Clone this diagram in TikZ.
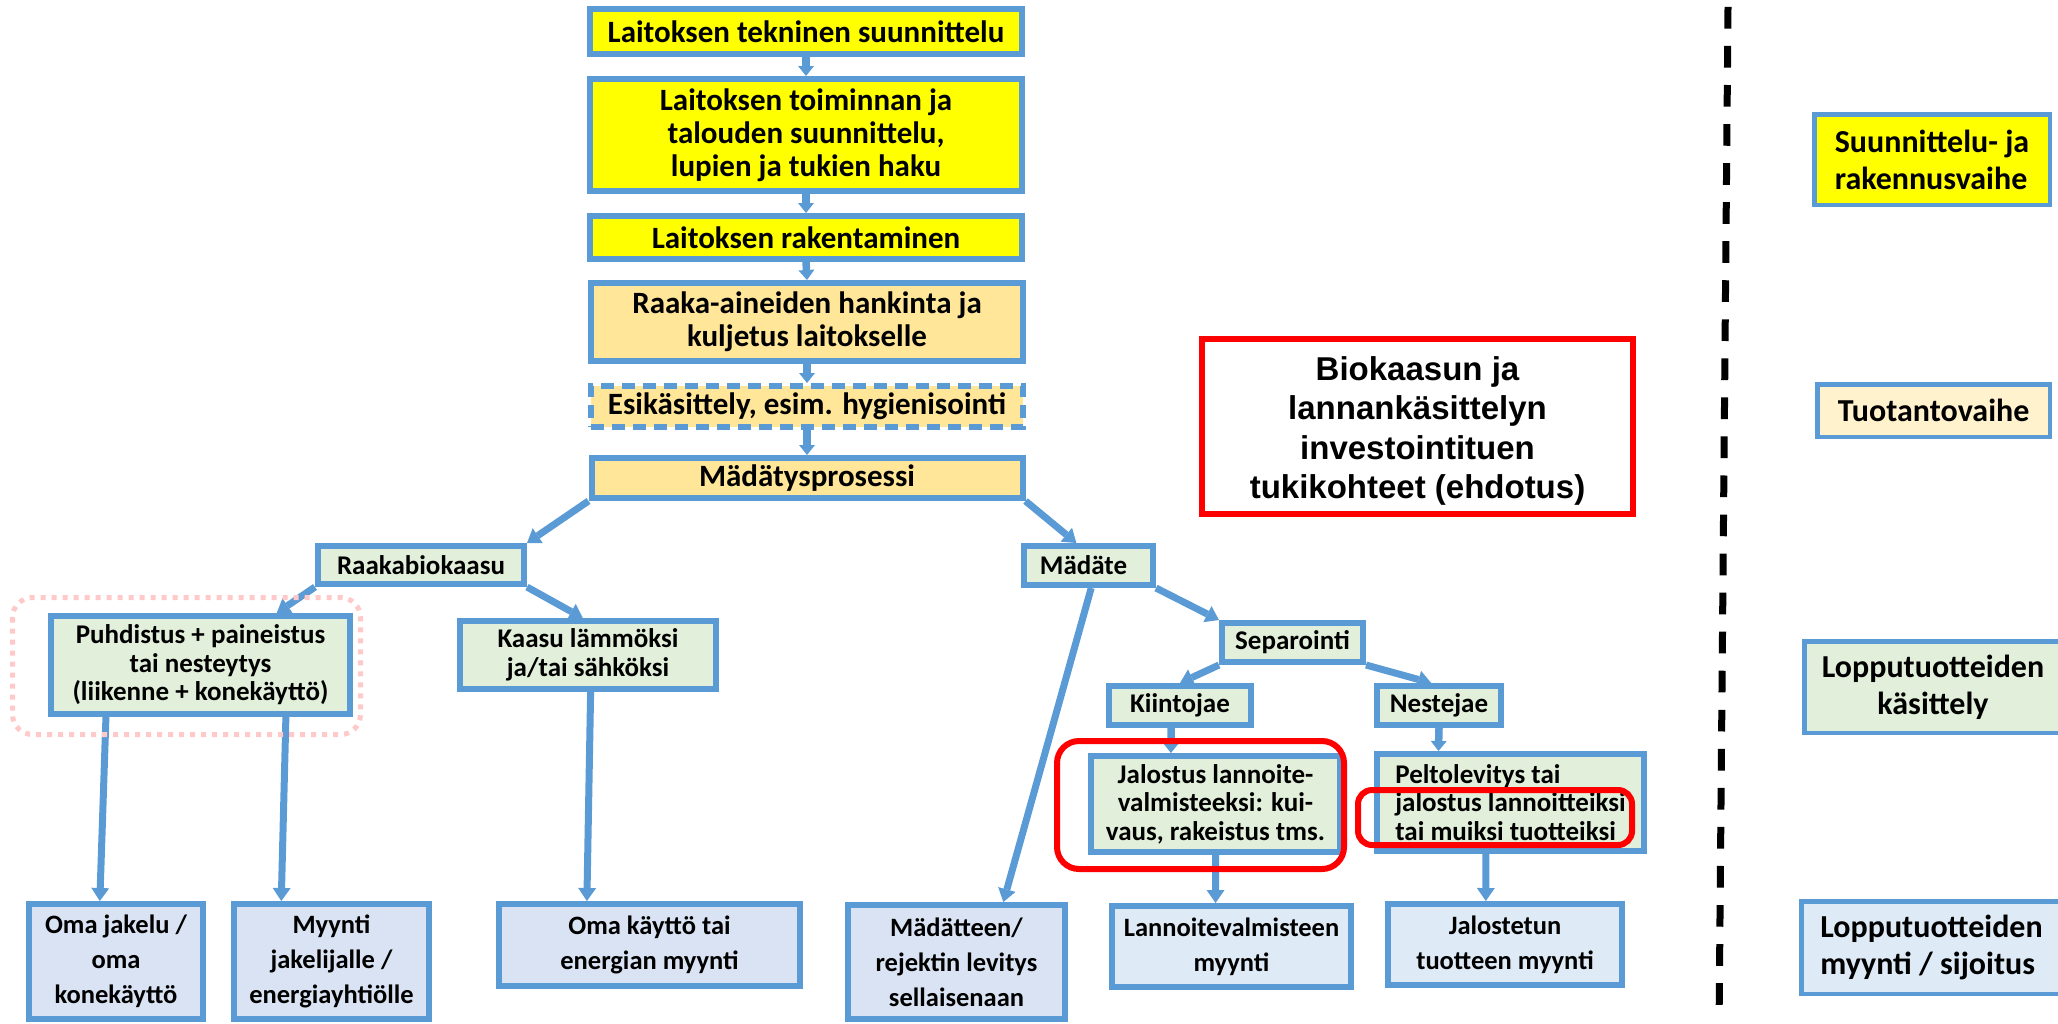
\documentclass[tikz,border=0pt]{standalone}
\usepackage{fontspec}
\setmainfont{Carlito}
\newfontfamily\arialfont{Liberation Sans}
\usetikzlibrary{arrows.meta,calc}
\definecolor{boxblue}{HTML}{5B9BD5}
\definecolor{byellow}{HTML}{FFFF00}
\definecolor{bpeach}{HTML}{FFE699}
\definecolor{bcream}{HTML}{FFF2CC}
\definecolor{bgreen}{HTML}{E2EFDA}
\definecolor{blav}{HTML}{DAE3F3}
\definecolor{blblue}{HTML}{DEEBF7}
\definecolor{hlred}{HTML}{FF0000}
\definecolor{hlpink}{HTML}{FFC9C9}
\newcommand\fTop{\fontsize{31}{33}\selectfont\bfseries}
\newcommand\fMid{\fontsize{27}{28.5}\selectfont\bfseries}
\newcommand\fBot{\fontsize{26.5}{35}\selectfont\bfseries}
\newcommand\fLeg{\fontsize{32}{37}\selectfont\bfseries}
\newcommand\fTitle{\arialfont\fontsize{33}{39.5}\selectfont\bfseries}
\begin{document}
\begin{tikzpicture}[x=1pt,y=-1pt,
  box/.style={draw=boxblue, line width=6pt, inner sep=0pt, align=center, text=black},
  legbox/.style={draw=boxblue, line width=4.5pt, inner sep=0pt, text=black, font=\fLeg},
  topbox/.style={box, font=\fTop},
  midbox/.style={box, font=\fMid, fill=bgreen},
  botbox/.style={box, font=\fBot},
  arr/.style={draw=boxblue, line width=7pt, -{Triangle[width=18pt,length=13pt,line width=0pt]}},
  sarr/.style={draw=boxblue, line width=7.5pt, -{Triangle[width=16pt,length=10pt,line width=0pt]}},
  redhl/.style={draw=hlred, line width=6pt},
  pinkhl/.style={draw=hlpink, line width=5pt, dash pattern=on 5pt off 6pt, rounded corners=20pt},
  phaseline/.style={draw=black, line width=7pt, dash pattern=on 21.7pt off 17.35pt}
]
\useasboundingbox (0,0) rectangle (2058,1023);

% top chain
\node[topbox, fill=byellow, minimum width=432, minimum height=45] (t1) at (806,31.5) {Laitoksen tekninen suunnittelu};
\node[topbox, fill=byellow, minimum width=432, minimum height=112] (t2) at (806,135) {Laitoksen toiminnan ja\\talouden suunnittelu,\\lupien ja tukien haku};
\node[topbox, fill=byellow, minimum width=432, minimum height=43] (t3) at (806,237.5) {Laitoksen rakentaminen};
\node[topbox, fill=bpeach, minimum width=432, minimum height=78] (t4) at (807,322) {Raaka-aineiden hankinta ja\\kuljetus laitokselle};
\node[topbox, fill=bpeach, minimum width=432, minimum height=41, dash pattern=on 13pt off 8pt] (t5) at (807,406.5) {Esikäsittely, esim. hygienisointi};
\node[topbox, fill=bpeach, minimum width=431, minimum height=40] (t6) at (807,478) {Mädätysprosessi};

% second level
\node[midbox, minimum width=206, minimum height=38] (raw) at (421,565) {Raakabiokaasu};
\node[midbox, minimum width=129, minimum height=39] (mad) at (1088.5,565.5) {Mädäte\hspace{10pt}};
\node[midbox, minimum width=299, minimum height=98] (puh) at (200.5,665) {Puhdistus + paineistus\\tai nesteytys\\(liikenne + konekäyttö)};
\node[midbox, minimum width=256, minimum height=68] (kaa) at (588,655) {Kaasu lämmöksi\\ja/tai sähköksi};
\node[midbox, minimum width=141, minimum height=39] (sep) at (1292.5,642.5) {Separointi};
\node[midbox, minimum width=142, minimum height=39] (kii) at (1180,705.5) {Kiintojae};
\node[midbox, minimum width=124, minimum height=39] (nes) at (1439,705.5) {Nestejae};
\node[midbox, minimum width=249, minimum height=96] (jal) at (1215.5,804) {Jalostus lannoite-\\valmisteeksi: kui-\\vaus, rakeistus tms.};
\node[midbox, align=left, minimum width=267, minimum height=97] (pel) at (1510.5,802.5) {Peltolevitys tai\\jalostus lannoitteiksi\\tai muiksi tuotteiksi};

% bottom level
\node[botbox, fill=blav, minimum width=174, minimum height=115] (oma) at (116,961.5) {Oma jakelu /\\oma\\konekäyttö};
\node[botbox, fill=blav, minimum width=195, minimum height=115] (myy) at (331.5,961.5) {Myynti\\jakelijalle /\\energiayhtiölle};
\node[botbox, fill=blav, minimum width=301, minimum height=82] (oke) at (649.5,945) {Oma käyttö tai\\energian myynti};
\node[botbox, fill=blav, minimum width=217, minimum height=114] (mdt) at (956.5,962) {Mädätteen/\\rejektin levitys\\sellaisenaan};
\node[botbox, fill=blblue, minimum width=239, minimum height=81] (lan) at (1231.5,946.5) {Lannoitevalmisteen\\myynti};
\node[botbox, fill=blblue, minimum width=234, minimum height=81] (jst) at (1505,944.5) {Jalostetun\\tuotteen myynti};

% title
\node[draw=hlred, line width=6.5pt, fill=white, inner sep=0pt, minimum width=431, minimum height=175] (title) at (1417.5,426.5) {};
\node[inner sep=0pt, align=center, font=\fTitle] (titletext) at ($(title.center)+(0,4.5)$) {Biokaasun ja\\lannankäsittelyn\\investointituen\\tukikohteet (ehdotus)};

% legend
\node[legbox, fill=byellow, align=left, minimum width=235.5, minimum height=90.5] (l1) at (1932,159.5) {Suunnittelu- ja\\rakennusvaihe};
\node[legbox, fill=bcream, align=center, minimum width=232.5, minimum height=52.5] (l2) at (1933.5,410.5) {Tuotantovaihe};
\node[legbox, fill=bgreen, align=center, minimum width=257.5, minimum height=91.5] (l3) at (1933,687) {Lopputuotteiden\\käsittely};
\node[legbox, fill=blblue, align=left, minimum width=260.5, minimum height=92.5] (l4) at (1931.5,947.5) {Lopputuotteiden\\myynti / sijoitus};

% phase separator
\coordinate (sepTop) at (1728,6.9);
\coordinate (sepBot) at (1719.2,1007);
\draw[phaseline] (sepTop) -- (sepBot);

% short arrows in the top chain
\draw[sarr] (t1.south) -- (t2.north);
\draw[sarr] (t2.south) -- (t3.north);
\draw[sarr] (t3.south) -- (t4.north);
\draw[sarr] (t4.south) -- (t5.north);
\draw[sarr] (t5.south) -- (t6.north);

% branching arrows
\draw[arr] (t6.south west) -- (raw.north east);
\draw[arr] (t6.south east) -- ($(mad.north west)!0.41!(mad.north east)$);
\draw[arr] (raw.south west) -- ($(puh.north west)!0.75!(puh.north east)$);
\draw[arr] (raw.south east) -- ($(kaa.north west)!0.48!(kaa.north east)$);
\draw[arr] ($(puh.south west)!0.19!(puh.south east)$) -- ($(oma.north west)!0.41!(oma.north east)$);
\draw[arr] ($(puh.south west)!0.78!(puh.south east)$) -- ($(myy.north west)!0.25!(myy.north east)$);
\draw[arr] ($(kaa.south west)!0.51!(kaa.south east)$) -- ($(oke.north west)!0.296!(oke.north east)$);
\draw[arr] ($(mad.south west)!0.52!(mad.south east)$) -- ($(mdt.north west)!0.71!(mdt.north east)$);
\draw[arr] (mad.south east) -- (sep.north west);
\draw[arr] (sep.south west) -- ($(kii.north west)!0.5!(kii.north east)$);
\draw[arr] (sep.south east) -- ($(nes.north west)!0.44!(nes.north east)$);
\draw[sarr] ($(kii.south west)!0.44!(kii.south east)$) -- ($(jal.north west)!0.325!(jal.north east)$);
\draw[sarr] (nes.south) -- ($(pel.north west)!0.236!(pel.north east)$);
\draw[arr] (jal.south) -- ($(lan.north west)!0.435!(lan.north east)$);
\draw[arr] ($(pel.south west)!0.41!(pel.south east)$) -- ($(jst.north west)!0.42!(jst.north east)$);

% highlights
\draw[pinkhl] (12.5,597.5) rectangle (360.5,734.5);
\draw[redhl, rounded corners=22pt] (1057,741) rectangle (1344,869);
\draw[redhl, rounded corners=14pt] (1358,790) rectangle (1632,845);
\end{tikzpicture}
\end{document}
